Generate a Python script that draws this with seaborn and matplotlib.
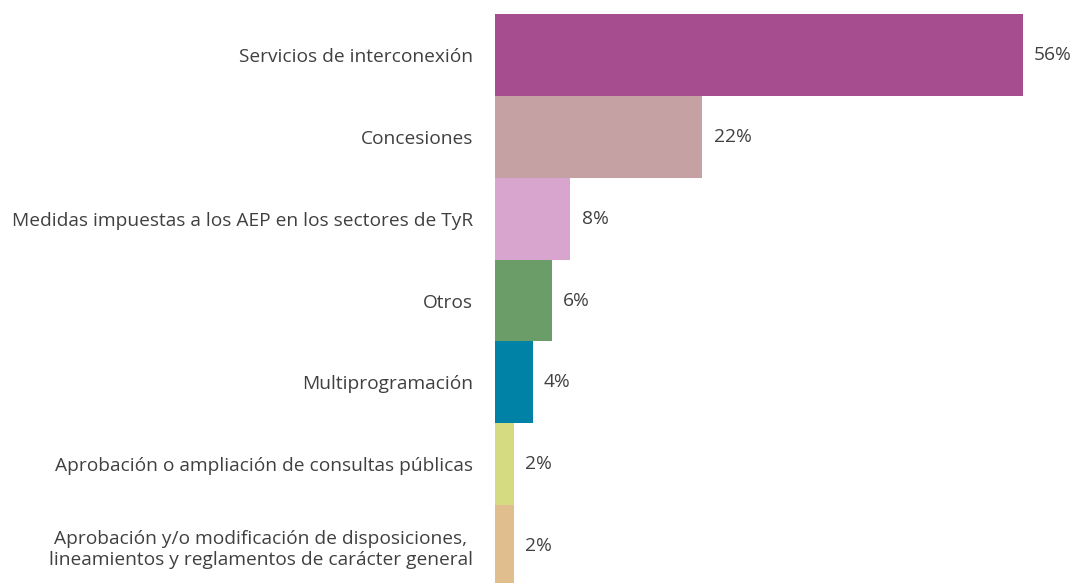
import seaborn as sns
import matplotlib.pyplot as plt
import pandas as pd

categorias = [
    'Servicios de interconexión',
    'Concesiones',
    'Medidas impuestas a los AEP en los sectores de TyR',
    'Otros',
    'Multiprogramación',
    'Aprobación o ampliación de consultas públicas',
    'Aprobación y/o modificación de disposiciones,\nlineamientos y reglamentos de carácter general',
]
porcentajes = [56, 22, 8, 6, 4, 2, 2]
colores = ['#A64D8F', '#C6A1A4', '#D7A5CE', '#6B9D68', '#0081A6', '#D5DB80', '#E0BE8E']

sns.set_style('white')
plt.rcParams['font.family'] = ['Open Sans', 'DejaVu Sans']

df = pd.DataFrame({'cat': categorias, 'pct': porcentajes})

fig = plt.figure(figsize=(10.73, 5.83), dpi=100)
ax = fig.add_axes([495 / 1073, -4 / 583, 528 / 1073, 573 / 583])

sns.barplot(data=df, x='pct', y='cat', hue='cat', palette=colores,
            width=1.0, legend=False, ax=ax, saturation=1, linewidth=0)

for cont in ax.containers:
    ax.bar_label(cont, labels=[f'{v:.0f}%' for v in cont.datavalues],
                 padding=8, fontsize=13.8, color='#404040', clip_on=False)

ax.set_xlim(0, 56)
ax.set_ylim(6.5, -0.5)
ax.set_xlabel('')
ax.set_ylabel('')
ax.set_xticks([])
ax.tick_params(axis='y', length=0, pad=16, labelsize=13.8, labelcolor='#404040')
for lab in ax.get_yticklabels():
    lab.set_multialignment('center')
sns.despine(ax=ax, left=True, bottom=True)

fig.savefig('out.png', dpi=100)
